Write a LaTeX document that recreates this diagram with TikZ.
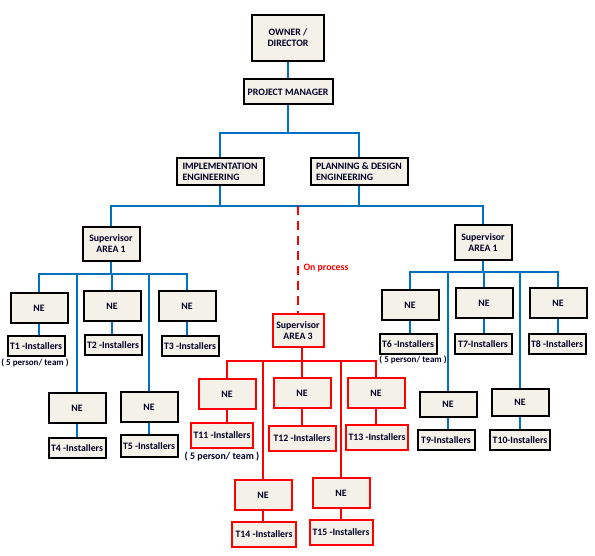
\documentclass[tikz,border=0pt]{standalone}
\usepackage{fontspec}
\setmainfont{Carlito}
\definecolor{boxfill}{RGB}{244,241,232}
\definecolor{linkblue}{RGB}{0,112,192}
\definecolor{areared}{RGB}{255,0,0}
\begin{document}
\begin{tikzpicture}[x=1pt, y=-1pt, font=\bfseries\fontsize{9.8}{11}\selectfont,
  box/.style={draw=black, line width=2pt, fill=boxfill, inner sep=0.5pt, align=center, text=black!85!blue},
  rbox/.style={box, draw=areared},
  nebox/.style={box, minimum width=57pt, minimum height=30pt},
  rnebox/.style={nebox, draw=areared},
  tbox/.style={box, minimum width=57pt, minimum height=20pt},
  rtbox/.style={box, draw=areared, minimum width=62pt, minimum height=25pt},
  note/.style={font=\bfseries\fontsize{9}{10}\selectfont, text=black!85!blue},
  link/.style={draw=linkblue, line width=2.2pt},
  sublink/.style={draw=linkblue, line width=1.6pt},
  rlink/.style={draw=areared, line width=2.4pt}]
  \useasboundingbox[fill=white] (0,0) rectangle (595,556);
  % top of the tree
  \node[box, minimum width=72pt, minimum height=46pt] (owner) at (288,38) {OWNER /\\DIRECTOR};
  \node[box, minimum width=89pt, minimum height=25pt] (pm) at (288,92) {PROJECT MANAGER};
  \node[box, minimum width=87pt, minimum height=27pt, align=left] (impl) at (220,172) {IMPLEMENTATION\\ENGINEERING};
  \node[box, minimum width=97pt, minimum height=27pt, align=left] (plan) at (359,172) {PLANNING \& DESIGN\\ENGINEERING};
  \node[box, minimum width=57pt, minimum height=34pt] (supA) at (111,244) {Supervisor\\AREA 1};
  \node[box, minimum width=57pt, minimum height=35pt] (supB) at (483,243) {Supervisor\\AREA 1};
  \node[rbox, minimum width=51pt, minimum height=33pt] (supC) at (298,331) {Supervisor\\AREA 3};
  \node[text=areared] (onproc) at (326,268) {On process};
  % area 1, left
  \node[nebox] (ne1) at (39,308) {NE};
  \node[nebox] (ne2) at (112,306) {NE};
  \node[nebox] (ne3) at (187,306) {NE};
  \node[tbox] (t1) at (36,346) {T1 -Installers};
  \node[tbox] (t2) at (113,345) {T2 -Installers};
  \node[tbox] (t3) at (190,346) {T3 -Installers};
  \node[note] (note1) at (35,363) {( 5 person/ team )};
  \node[nebox] (ne4) at (77,408) {NE};
  \node[nebox] (ne5) at (149,407) {NE};
  \node[tbox] (t4) at (77,448) {T4 -Installers};
  \node[tbox, minimum height=22pt] (t5) at (149,446) {T5 -Installers};
  % area 1, right
  \node[nebox] (ne6) at (410,305) {NE};
  \node[nebox] (ne7) at (484,303) {NE};
  \node[nebox] (ne8) at (558,303) {NE};
  \node[tbox] (t6) at (408,344) {T6 -Installers};
  \node[tbox] (t7) at (483,344) {T7-Installers};
  \node[tbox] (t8) at (557,344) {T8 -Installers};
  \node[note] (note2) at (413,360) {( 5 person/ team )};
  \node[nebox, minimum height=25pt] (ne9) at (448,404) {NE};
  \node[nebox, minimum height=27pt] (ne10) at (520,402) {NE};
  \node[tbox] (t9) at (446,440) {T9-Installers};
  \node[tbox, minimum width=60pt] (t10) at (520,440) {T10-Installers};
  % area 3
  \node[rnebox] (ne11) at (227,394) {NE};
  \node[rnebox] (ne12) at (302,393) {NE};
  \node[rnebox] (ne13) at (376,393) {NE};
  \node[rtbox] (t11) at (222,435) {T11 -Installers};
  \node[rtbox, minimum width=67pt] (t12) at (302,438) {T12 -Installers};
  \node[rtbox] (t13) at (377,437) {T13 -Installers};
  \node[note, font=\bfseries\fontsize{10}{12}\selectfont] (note3) at (222,457) {( 5 person/ team )};
  \node[rnebox] (ne14) at (263,495) {NE};
  \node[rnebox] (ne15) at (341,493) {NE};
  \node[rtbox, minimum width=64pt] (t14) at (264,534) {T14 -Installers};
  \node[rtbox, minimum width=63pt] (t15) at (341,532) {T15 -Installers};
  % connectors
  \coordinate (busTop) at (288,133);
  \coordinate (busMid) at (288,206);
  \coordinate (busA) at (111,274);
  \coordinate (busB) at (483,272);
  \coordinate (busC) at (302,361);
  \draw[link] (owner) -- (pm);
  \draw[link] (pm) -- (busTop);
  \draw[link] (impl.north) |- (busTop) -| (plan.north);
  \draw[link] (impl.south) -- (impl.south |- busMid);
  \draw[link] (plan.south) -- (plan.south |- busMid);
  \draw[link] (supA.north) |- (busMid) -| (supB.north);
  \draw[areared, line width=2.4pt, dash pattern=on 9pt off 6pt] (supC.north |- busMid) -- (supC.north);
  \draw[link] (supA.south) -- (busA);
  \draw[link] (ne1.north) |- (busA) -| (ne3.north);
  \foreach \ne in {ne2,ne4,ne5} \draw[link] (\ne.north) -- (\ne.north |- busA);
  \draw[link] (supB.south) -- (busB);
  \draw[link] (ne6.north) |- (busB) -| (ne8.north);
  \foreach \ne in {ne7,ne9,ne10} \draw[link] (\ne.north) -- (\ne.north |- busB);
  \draw[rlink] (supC.south -| busC) -- (busC);
  \draw[rlink] (ne11.north) |- (busC) -| (ne13.north);
  \foreach \ne in {ne12,ne14,ne15} \draw[rlink] (\ne.north) -- (\ne.north |- busC);
  \foreach \ne/\t in {ne1/t1,ne2/t2,ne3/t3,ne4/t4,ne5/t5,ne6/t6,ne7/t7,ne8/t8,ne9/t9,ne10/t10}
    \draw[sublink] (\ne) -- (\ne.south |- \t.north);
  \foreach \ne/\t in {ne11/t11,ne12/t12,ne13/t13,ne14/t14,ne15/t15}
    \draw[rlink, line width=2pt] (\ne) -- (\ne.south |- \t.north);
\end{tikzpicture}
\end{document}
